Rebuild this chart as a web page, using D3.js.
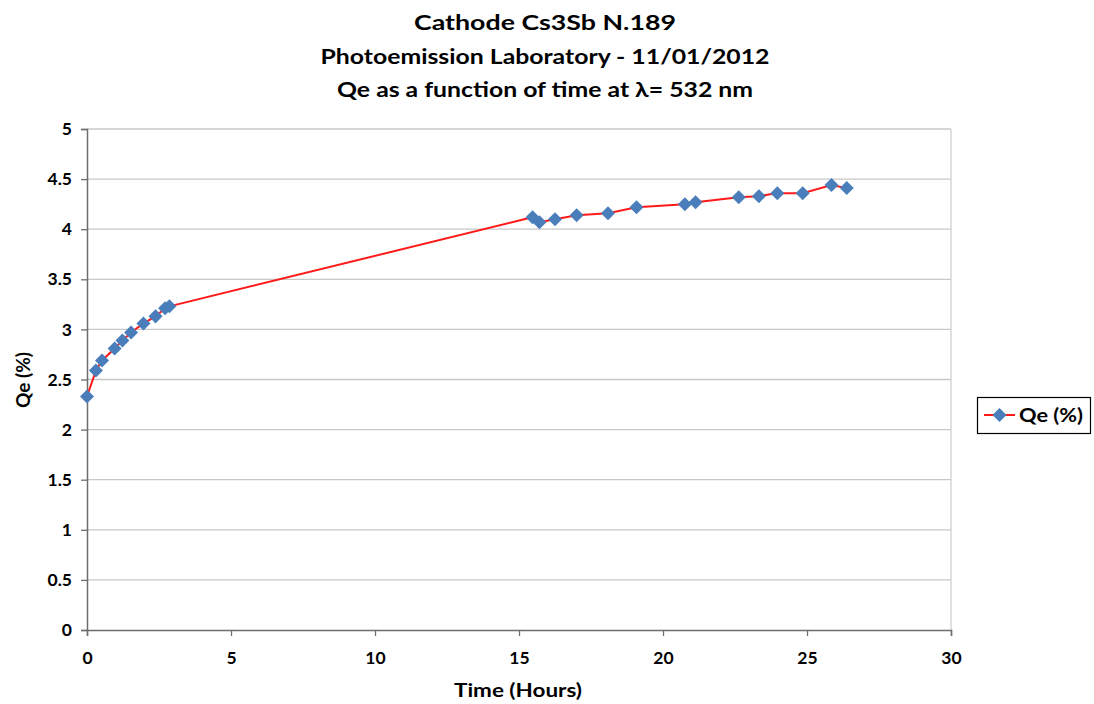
<!DOCTYPE html>
<html><head><meta charset="utf-8">
<script src="https://cdn.jsdelivr.net/npm/d3@7"></script>
<style>body{margin:0;background:#fff}svg{display:block}text{font-family:Lato,"Open Sans",sans-serif;font-weight:bold;fill:#000}</style>
</head><body><svg id="c" width="1094" height="704"></svg>
<script>
const timeHours = [0, 0.31, 0.52, 0.96, 1.23, 1.53, 1.96, 2.38, 2.71, 2.86,
  15.47, 15.71, 16.25, 17.0, 18.09, 19.08, 20.76, 21.13, 22.63, 23.33, 23.97, 24.85, 25.85, 26.38];
const qePercent = [2.33, 2.59, 2.69, 2.81, 2.89, 2.97, 3.06, 3.13, 3.21, 3.23,
  4.12, 4.07, 4.10, 4.14, 4.16, 4.22, 4.25, 4.27, 4.32, 4.33, 4.36, 4.36, 4.44, 4.41];
const xTicks = [0, 5, 10, 15, 20, 25, 30];
const yTicks = [0, 0.5, 1, 1.5, 2, 2.5, 3, 3.5, 4, 4.5, 5];
const titleLines = ["Cathode Cs3Sb N.189", "Photoemission Laboratory - 11/01/2012", "Qe as a function of time at λ= 532 nm"];
const seriesName = "Qe (%)";

const svg = d3.select("#c");
const L = 87, R = 951, T = 129, B = 630;
const x = d3.scaleLinear().domain([0, 30]).range([L, R]);
const y = d3.scaleLinear().domain([0, 5]).range([B, T]);

// gridlines
svg.append("g").selectAll("line").data(yTicks.filter(d => d > 0)).join("line")
  .attr("x1", L).attr("x2", R).attr("y1", d => y(d)).attr("y2", d => y(d))
  .attr("stroke", "#c8c8c8").attr("stroke-width", 1.3);
svg.append("line").attr("x1", R).attr("x2", R).attr("y1", T).attr("y2", B)
  .attr("stroke", "#d0d0d0").attr("stroke-width", 1.3);

// axes
const yAxis = svg.append("g").attr("transform", `translate(${L},0)`)
  .call(d3.axisLeft(y).tickValues(yTicks).tickSize(6).tickPadding(9).tickFormat(d3.format("")));
const xAxis = svg.append("g").attr("transform", `translate(0,${B})`)
  .call(d3.axisBottom(x).tickValues(xTicks).tickSize(6).tickPadding(16));
[yAxis, xAxis].forEach(a => {
  a.select(".domain").attr("stroke", "#6e6e6e").attr("stroke-width", 1.5);
  a.selectAll(".tick line").attr("stroke", "#6e6e6e").attr("stroke-width", 1.3);
  a.selectAll("text").attr("font-size", 17.5).attr("font-family", "Lato").attr("font-weight", "bold").attr("fill", "#000");
});

// line
const pts = timeHours.map((t, i) => [t, qePercent[i]]);
svg.append("path").datum(pts)
  .attr("d", d3.line().x(d => x(d[0])).y(d => y(d[1])))
  .attr("fill", "none").attr("stroke", "#ff1a1a").attr("stroke-width", 2);
const diamond = d3.symbol().type(d3.symbolDiamond2).size(125);
svg.append("g").selectAll("path").data(pts).join("path")
  .attr("d", diamond).attr("transform", d => `translate(${x(d[0])},${y(d[1])})`)
  .attr("fill", "#4a7ebb");

// titles
const tw = [262, 449, 416];
titleLines.forEach((t, i) => {
  svg.append("text").attr("x", 545).attr("y", 30 + i * 33.5)
    .attr("text-anchor", "middle").attr("font-size", 21)
    .attr("textLength", tw[i]).attr("lengthAdjust", "spacingAndGlyphs").text(t);
});

// axis titles
svg.append("text").attr("x", 518).attr("y", 697).attr("text-anchor", "middle")
  .attr("font-size", 18).attr("textLength", 128).attr("lengthAdjust", "spacingAndGlyphs").text("Time (Hours)");
svg.append("text").attr("transform", "translate(30,380) rotate(-90)").attr("text-anchor", "middle")
  .attr("font-size", 18).attr("textLength", 56).attr("lengthAdjust", "spacingAndGlyphs").text("Qe (%)");

// legend
const lg = svg.append("g");
lg.append("rect").attr("x", 977.5).attr("y", 397.5).attr("width", 113).attr("height", 36)
  .attr("fill", "#fff").attr("stroke", "#000").attr("stroke-width", 1.2);
lg.append("line").attr("x1", 984).attr("x2", 1015).attr("y1", 415).attr("y2", 415)
  .attr("stroke", "#ff1a1a").attr("stroke-width", 2);
lg.append("path").attr("d", diamond).attr("transform", "translate(999.5,415)").attr("fill", "#4a7ebb");
lg.append("text").attr("x", 1019).attr("y", 422).attr("font-size", 18)
  .attr("textLength", 64).attr("lengthAdjust", "spacingAndGlyphs").text(seriesName);
</script></body></html>
